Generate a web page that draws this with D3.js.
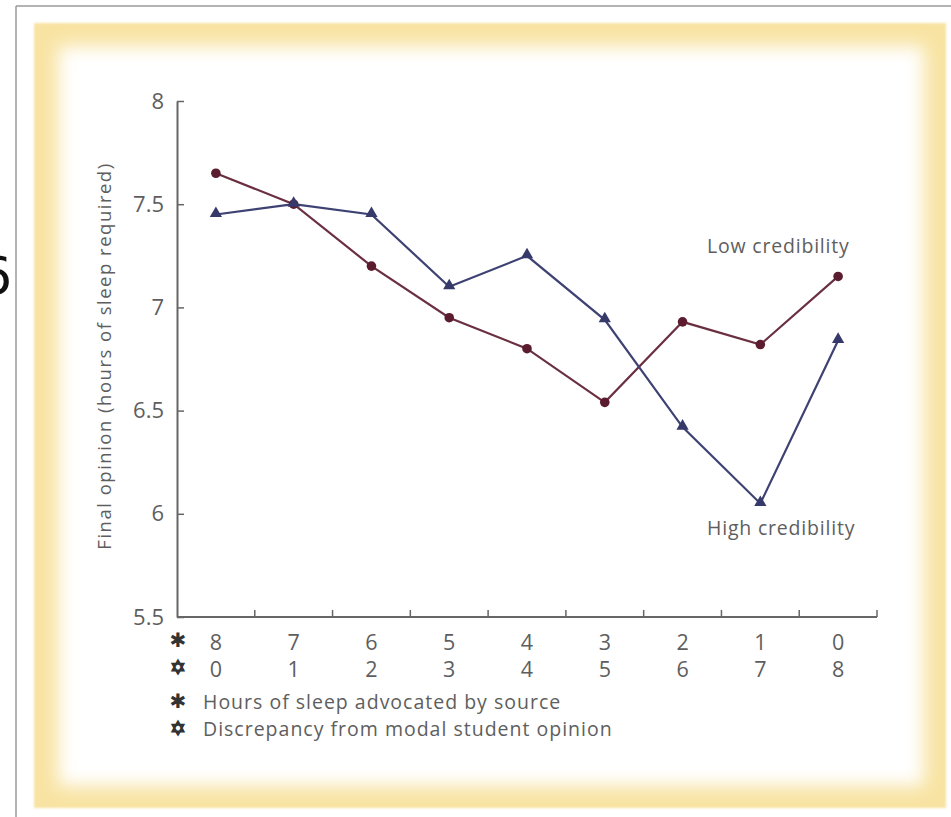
<!DOCTYPE html>
<html>
<head>
<meta charset="utf-8">
<script src="https://cdn.jsdelivr.net/npm/d3@7/dist/d3.min.js"></script>
<style>
  body { margin: 0; background: #fff; }
  svg { display: block; font-family: "Open Sans", "DejaVu Sans", sans-serif; }
</style>
</head>
<body>
<div id="chart"></div>
<script>
const hoursAdvocated = ["8", "7", "6", "5", "4", "3", "2", "1", "0"];
const discrepancy = ["0", "1", "2", "3", "4", "5", "6", "7", "8"];
const lowCredibility = [7.65, 7.5, 7.2, 6.95, 6.8, 6.54, 6.93, 6.82, 7.15];
const highCredibility = [7.45, 7.5, 7.45, 7.1, 7.25, 6.94, 6.42, 6.05, 6.84];
const yTicks = [5.5, 6, 6.5, 7, 7.5, 8];

const W = 951, H = 817;
const plot = { left: 177, right: 877, top: 101, bottom: 617 };

const svg = d3.select("#chart").append("svg")
    .attr("width", W).attr("height", H);

// frame
const defs = svg.append("defs");
defs.append("filter").attr("id", "soft")
    .attr("x", "-10%").attr("y", "-10%").attr("width", "120%").attr("height", "120%")
  .append("feGaussianBlur").attr("stdDeviation", 9);
defs.append("filter").attr("id", "edge")
  .append("feGaussianBlur").attr("stdDeviation", 1.2);

svg.append("line").attr("x1", 16).attr("x2", 16).attr("y1", 6).attr("y2", H)
    .attr("stroke", "#9a9a9a").attr("stroke-width", 1.5);
svg.append("line").attr("x1", 16).attr("x2", W).attr("y1", 6).attr("y2", 6)
    .attr("stroke", "#9a9a9a").attr("stroke-width", 1.5);

svg.append("rect").attr("x", 34).attr("y", 23).attr("width", 912).attr("height", 785)
    .attr("fill", "#f8e3a2").attr("filter", "url(#edge)");
svg.append("rect").attr("x", 58).attr("y", 46).attr("width", 866).attr("height", 740)
    .attr("fill", "#fff").attr("filter", "url(#soft)");

// stray glyph cut off at the left edge
svg.append("text").attr("x", 12).attr("y", 294).attr("text-anchor", "end")
    .attr("font-size", 52).attr("fill", "#111").attr("font-family", "DejaVu Sans")
    .text("6");

const x = d3.scaleBand().domain(hoursAdvocated).range([plot.left, plot.right]);
const y = d3.scaleLinear().domain([5.5, 8]).range([plot.bottom, plot.top]);

const axisColor = "#666";
const textColor = "#5e5e5e";

// y axis, ticks inward
const yAxis = svg.append("g")
    .attr("transform", `translate(${plot.left},0)`)
    .call(d3.axisRight(y).tickValues(yTicks).tickSize(7).tickFormat(d3.format("")).tickSizeOuter(0));
yAxis.attr("font-size", 22).attr("font-family", "Open Sans");
yAxis.select(".domain").attr("stroke", axisColor).attr("stroke-width", 2);
yAxis.selectAll(".tick line").attr("stroke", axisColor).attr("stroke-width", 1.5);
yAxis.selectAll(".tick text")
    .attr("x", -13).attr("text-anchor", "end")
    .style("font-size", "22px").attr("fill", textColor);

// x axis, ticks at band edges pointing up
const xAxis = svg.append("g").attr("transform", `translate(0,${plot.bottom})`);
xAxis.append("line")
    .attr("x1", plot.left).attr("x2", plot.right)
    .attr("stroke", axisColor).attr("stroke-width", 2);
xAxis.selectAll(".edge")
    .data(hoursAdvocated.slice(1).concat(["end"]))
    .enter().append("line")
    .attr("class", "edge")
    .attr("x1", (d, i) => i < hoursAdvocated.length - 1 ? x(d) : plot.right)
    .attr("x2", (d, i) => i < hoursAdvocated.length - 1 ? x(d) : plot.right)
    .attr("y1", 0).attr("y2", -7)
    .attr("stroke", axisColor).attr("stroke-width", 1.5);

const rowSymbols = ["\u2731", "\u2721"];
function drawSymbol(i, yy) {
    svg.append("text").attr("x", plot.left + 1).attr("y", yy)
        .attr("text-anchor", "middle").attr("font-size", i === 0 ? 20 : 19)
        .attr("fill", "#333").attr("stroke", "#333").attr("stroke-width", i === 0 ? 0 : 1.1)
        .attr("font-family", "DejaVu Sans")
        .text(rowSymbols[i]);
}

const labelRows = [hoursAdvocated, discrepancy];
labelRows.forEach((row, r) => {
    const yy = 650 + r * 27;
    drawSymbol(r, yy - 3);
    svg.selectAll(".row" + r)
        .data(row)
        .enter().append("text")
        .attr("x", (d, i) => x(hoursAdvocated[i]) + x.bandwidth() / 2)
        .attr("y", yy)
        .attr("text-anchor", "middle")
        .attr("font-size", 21.5).attr("fill", textColor)
        .text(d => d);
});

// legend for the two label rows
const legendItems = ["Hours of sleep advocated by source", "Discrepancy from modal student opinion"];
legendItems.forEach((t, i) => {
    const yy = 709 + i * 27;
    drawSymbol(i, yy - 1);
    svg.append("text").attr("x", 203).attr("y", yy)
        .attr("font-size", 19.5).attr("letter-spacing", 1.0).attr("fill", textColor)
        .text(t);
});

// y axis title
svg.append("text")
    .attr("transform", `translate(111,${(plot.top + plot.bottom) / 2 - 3}) rotate(-90)`)
    .attr("text-anchor", "middle")
    .attr("font-size", 18.5).attr("letter-spacing", 1.5).attr("fill", textColor)
    .text("Final opinion (hours of sleep required)");

const cx = (d, i) => x(hoursAdvocated[i]) + x.bandwidth() / 2;
const line = d3.line().x(cx).y(d => y(d));

const lowColor = "#6a2f40";
const highColor = "#3e4273";

svg.append("path").datum(lowCredibility)
    .attr("d", line).attr("fill", "none")
    .attr("stroke", lowColor).attr("stroke-width", 2.2);
svg.append("path").datum(highCredibility)
    .attr("d", line).attr("fill", "none")
    .attr("stroke", highColor).attr("stroke-width", 2.2);

svg.selectAll(".low-pt").data(lowCredibility)
    .enter().append("circle")
    .attr("class", "low-pt")
    .attr("cx", cx).attr("cy", d => y(d)).attr("r", 4.8)
    .attr("fill", "#5a1c2e");

const tri = d3.symbol().type(d3.symbolTriangle).size(65);
svg.selectAll(".high-pt").data(highCredibility)
    .enter().append("path")
    .attr("class", "high-pt")
    .attr("d", tri)
    .attr("transform", (d, i) => `translate(${cx(d, i)},${y(d) - 1})`)
    .attr("fill", "#363a6a");

svg.append("text").attr("x", 707).attr("y", 253)
    .attr("font-size", 19.5).attr("letter-spacing", 0.8).attr("fill", textColor).text("Low credibility");
svg.append("text").attr("x", 707).attr("y", 535)
    .attr("font-size", 19.5).attr("letter-spacing", 0.8).attr("fill", textColor).text("High credibility");
</script>
</body>
</html>
